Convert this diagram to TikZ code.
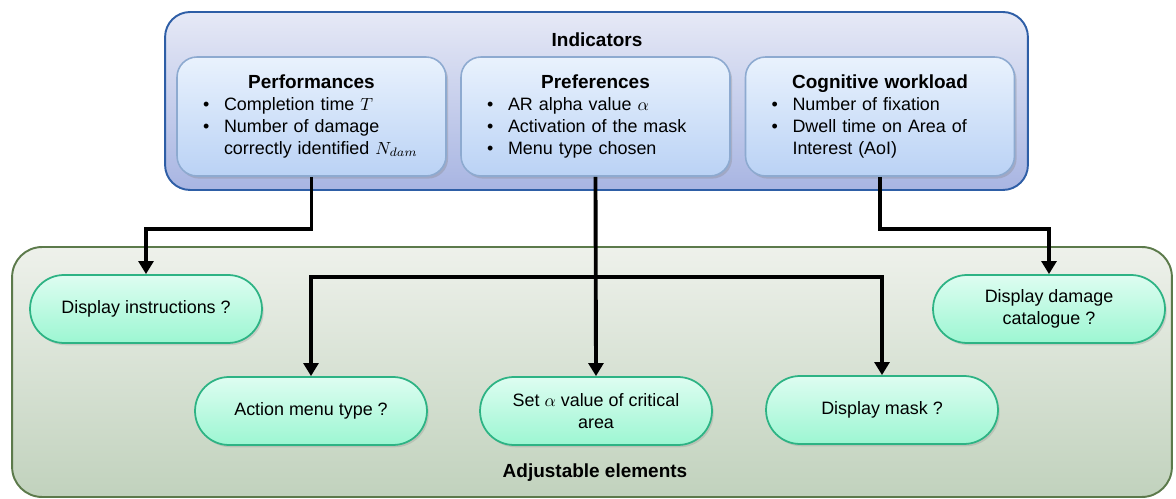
\documentclass[tikz,border=0pt]{standalone}
\usepackage{fontspec}
\setmainfont{Liberation Sans}
\usetikzlibrary{arrows.meta,shadows,calc}
\definecolor{indline}{HTML}{2E5EA6}
\definecolor{indtop}{HTML}{E6E9F6}
\definecolor{indbot}{HTML}{A8B5E2}
\definecolor{subline}{HTML}{8DAAD0}
\definecolor{subtop}{HTML}{E9F2FD}
\definecolor{subbot}{HTML}{BAD2F5}
\definecolor{adjline}{HTML}{5C7A4B}
\definecolor{adjtop}{HTML}{EEF1EB}
\definecolor{adjbot}{HTML}{C1D2BD}
\definecolor{pilline}{HTML}{2DB384}
\definecolor{pilltop}{HTML}{DEFDF1}
\definecolor{pillbot}{HTML}{9CF6D2}
\newcommand{\itm}{\par\noindent\hangindent=0.42cm\hangafter=1\makebox[0.42cm][l]{\textbullet}}
\begin{document}
\begin{tikzpicture}[x=0.02cm,y=-0.02cm,font=\fontsize{10.2}{12.4}\selectfont,
	conn/.style={line width=2.2pt,-{Triangle[length=7.4pt,width=8.4pt]}},
	title/.style={font=\fontsize{10.8}{13}\selectfont\bfseries},
	indbox/.style={draw=indline,line width=1.1pt,rounded corners=0.5cm,top color=indtop,bottom color=indbot,minimum width=17.26cm,minimum height=3.56cm},
	adjbox/.style={draw=adjline,line width=1.1pt,rounded corners=0.6cm,top color=adjtop,bottom color=adjbot,minimum width=23.2cm,minimum height=5cm},
	sub/.style={draw=subline,line width=0.9pt,rounded corners=0.4cm,top color=subtop,bottom color=subbot,drop shadow={opacity=0.3,shadow xshift=1.2pt,shadow yshift=-1.5pt},text width=4.34cm,inner xsep=0.52cm,minimum height=2.38cm,align=left},
	pill/.style={draw=pilline,line width=1pt,rounded corners=0.68cm,top color=pilltop,bottom color=pillbot,drop shadow={opacity=0.25,shadow xshift=1pt,shadow yshift=-1.3pt},minimum width=4.64cm,minimum height=1.36cm,align=center}]
		\useasboundingbox (0,0) rectangle (1176,499);
		\node[indbox] (ind) at (596.5,101) {};
		\node[title] (indtitle) at (597,40) {Indicators};
		\node[sub] (perf) at (311.5,116.5) {{\centering\fontsize{10.8}{13}\selectfont\bfseries Performances\par}
			\itm Completion time $T$
			\itm Number of damage\newline correctly identified $N_{dam}$\par};
		\node[sub] (pref) at (595.5,116.5) {{\centering\fontsize{10.8}{13}\selectfont\bfseries Preferences\par}
			\itm AR alpha value $\alpha$
			\itm Activation of the mask
			\itm Menu type chosen\par};
		\node[sub] (cog) at (880,116.5) {{\centering\fontsize{10.8}{13}\selectfont\bfseries Cognitive workload\par}
			\itm Number of fixation
			\itm Dwell time on Area of\newline Interest (AoI)\par};
		\node[adjbox] (adj) at (592,372) {};
		\node[title] (adjtitle) at (595,473) {Adjustable elements};
		\node[pill] (instr) at (146,309) {Display instructions ?};
		\node[pill] (menu) at (311,411) {Action menu type ?};
		\node[pill] (alpha) at (596,411) {Set $\alpha$ value of critical\\area};
		\node[pill] (mask) at (882,410) {Display mask ?};
		\node[pill] (cat) at (1049,309) {Display damage\\catalogue ?};
		\coordinate (split) at ($(pref.south)+(0,100)$);
		\draw[conn] (perf.south) -- ++(0,52) -| (instr.north);
		\draw[conn] (pref.south) -- (alpha.north);
		\draw[conn] (split) -| (menu.north);
		\draw[conn] (split) -| (mask.north);
		\draw[conn] (cog.south) -- ++(0,52) -| (cat.north);
	\end{tikzpicture}
\end{document}
